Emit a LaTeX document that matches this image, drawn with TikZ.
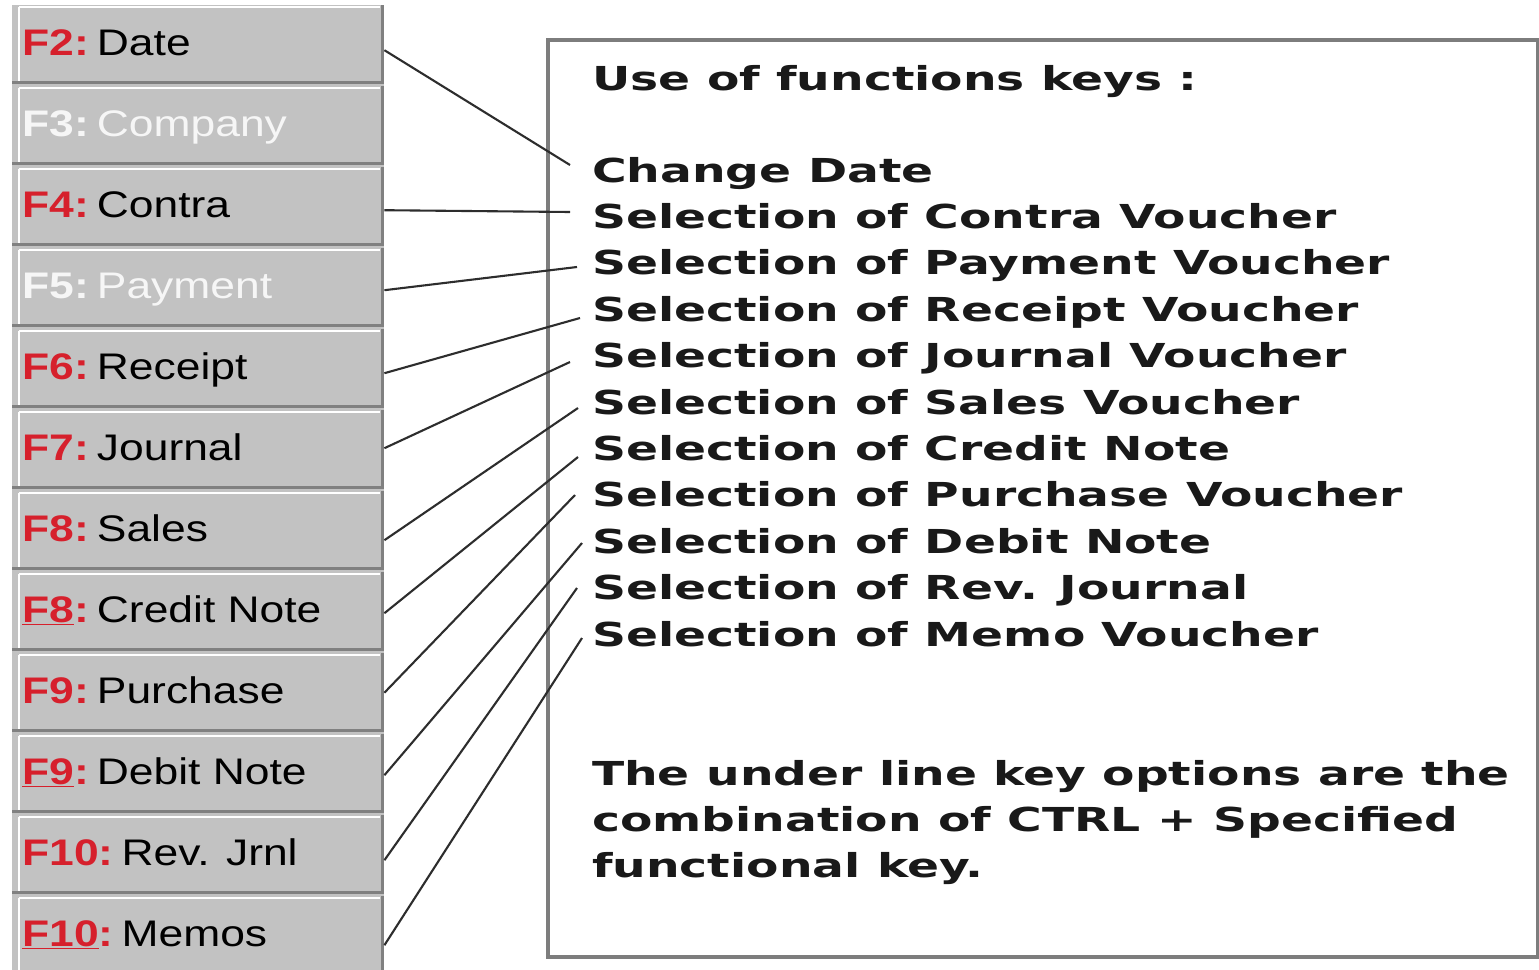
\documentclass[tikz,border=0pt]{standalone}
\usepackage{fontspec}
\setmainfont{DejaVu Sans}
\newfontfamily\btnfont{Liberation Sans}[FakeStretch=1.2]
\newfontfamily\txtfont{DejaVu Sans}[FakeStretch=1.43]
\definecolor{btngray}{RGB}{194,194,194}
\definecolor{keyred}{RGB}{214,32,44}
\definecolor{edgedark}{RGB}{128,128,128}
\definecolor{linegray}{RGB}{45,45,45}
\definecolor{boxgray}{RGB}{125,125,125}
\definecolor{offtext}{RGB}{246,246,246}
\definecolor{desctext}{RGB}{25,25,25}
\begin{document}
\begin{tikzpicture}[x=1pt,y=-1pt,
  btn/.style={fill=btngray, minimum width=372pt, minimum height=79pt, inner sep=0pt, anchor=north west},
  keylbl/.style={anchor=base west, font=\btnfont\fontsize{37}{40}\selectfont, inner sep=0pt},
  desc/.style={anchor=base west, font=\txtfont\bfseries\fontsize{33}{36}\selectfont, inner sep=0pt, text=desctext},
  conn/.style={draw=linegray, line width=2.1pt},
  hilite/.style={draw=white, line width=2.5pt},
  shade/.style={draw=edgedark, line width=3.5pt},
  panelbox/.style={draw=boxgray, line width=4pt, minimum width=990pt, minimum height=917pt, inner sep=0pt, anchor=north west}
]
\useasboundingbox[fill=white] (0,0) rectangle (1539,969);
\fill[btngray] (12,5) rectangle (384,969);
% buttons
\foreach \i/\key/\name/\kc/\nc in {
 0/F2:/Date/keyred/black,
 1/F3:/Company/offtext/offtext,
 2/F4:/Contra/keyred/black,
 3/F5:/Payment/offtext/offtext,
 4/F6:/Receipt/keyred/black,
 5/F7:/Journal/keyred/black,
 6/F8:/Sales/keyred/black,
 7/\underline{F8}:/Credit Note/keyred/black,
 8/F9:/Purchase/keyred/black,
 9/\underline{F9}:/Debit Note/keyred/black,
 10/F10:/Rev. Jrnl/keyred/black,
 11/\underline{F10}:/Memos/keyred/black}{
  \node[btn] (b\i) at (12,{5+81*\i}) {};
  \draw[hilite] ([xshift=7pt,yshift=-2pt]b\i.north west) -- ([xshift=-4pt,yshift=-2pt]b\i.north east);
  \draw[hilite] ([xshift=7pt,yshift=-2pt]b\i.north west) -- ([xshift=7pt,yshift=2pt]b\i.south west);
  \draw[shade] ([yshift=2pt]b\i.south west) -- ([yshift=2pt]b\i.south east);
  \draw[shade] ([xshift=-2pt]b\i.north east) -- ([xshift=-2pt]b\i.south east);
  \node[keylbl] (l\i) at (22,{55+81*\i}) {\textcolor{\kc}{\bfseries\key}\hspace{0.22em}\textcolor{\nc}{\name}};
}
% panel
\node[panelbox] (panel) at (546,38) {};
\node[desc] (hdr) at (592,90) {Use of functions keys :};
\foreach \k/\txt in {
 0/Change Date,
 1/Selection of Contra Voucher,
 2/Selection of Payment Voucher,
 3/Selection of Receipt Voucher,
 4/Selection of Journal Voucher,
 5/Selection of Sales Voucher,
 6/Selection of Credit Note,
 7/Selection of Purchase Voucher,
 8/Selection of Debit Note,
 9/Selection of Rev. Journal,
 10/Selection of Memo Voucher}{
  \node[desc] (t\k) at (592,{182+46.4*\k}) {\txt};
}
\node[desc] (f1) at (592,785) {The under line key options are the};
\node[desc] (f2) at (592,831) {combination of CTRL + Specified};
\node[desc] (f3) at (592,877) {functional key.};
% connector ends
\coordinate (e0) at (570,165);
\coordinate (e1) at (570,212);
\coordinate (e2) at (577,267);
\coordinate (e3) at (580,318);
\coordinate (e4) at (570,362);
\coordinate (e5) at (578,408);
\coordinate (e6) at (578,457);
\coordinate (e7) at (575,495);
\coordinate (e8) at (582,543);
\coordinate (e9) at (577,588);
\coordinate (e10) at (582,638);
\draw[conn] ([yshift=-5.5pt]b0.east) -- (e0);
\draw[conn] ([yshift=-3.5pt]b2.east) -- (e1);
\draw[conn] ([yshift=-2.5pt]b3.east) -- (e2);
\draw[conn] ([yshift=-4.5pt]b4.east) -- (e3);
\draw[conn] ([yshift=1.5pt]b5.east) -- (e4);
\draw[conn] ([yshift=-9.5pt]b6.east) -- (e5);
\draw[conn] ([yshift=-1.5pt]b7.east) -- (e6);
\draw[conn] ([yshift=0pt]b8.east) -- (e7);
\draw[conn] ([yshift=-1.5pt]b9.east) -- (e8);
\draw[conn] ([yshift=-5.5pt]b10.east) -- (e9);
\draw[conn] ([yshift=-9.5pt]b11.east) -- (e10);
\end{tikzpicture}
\end{document}
